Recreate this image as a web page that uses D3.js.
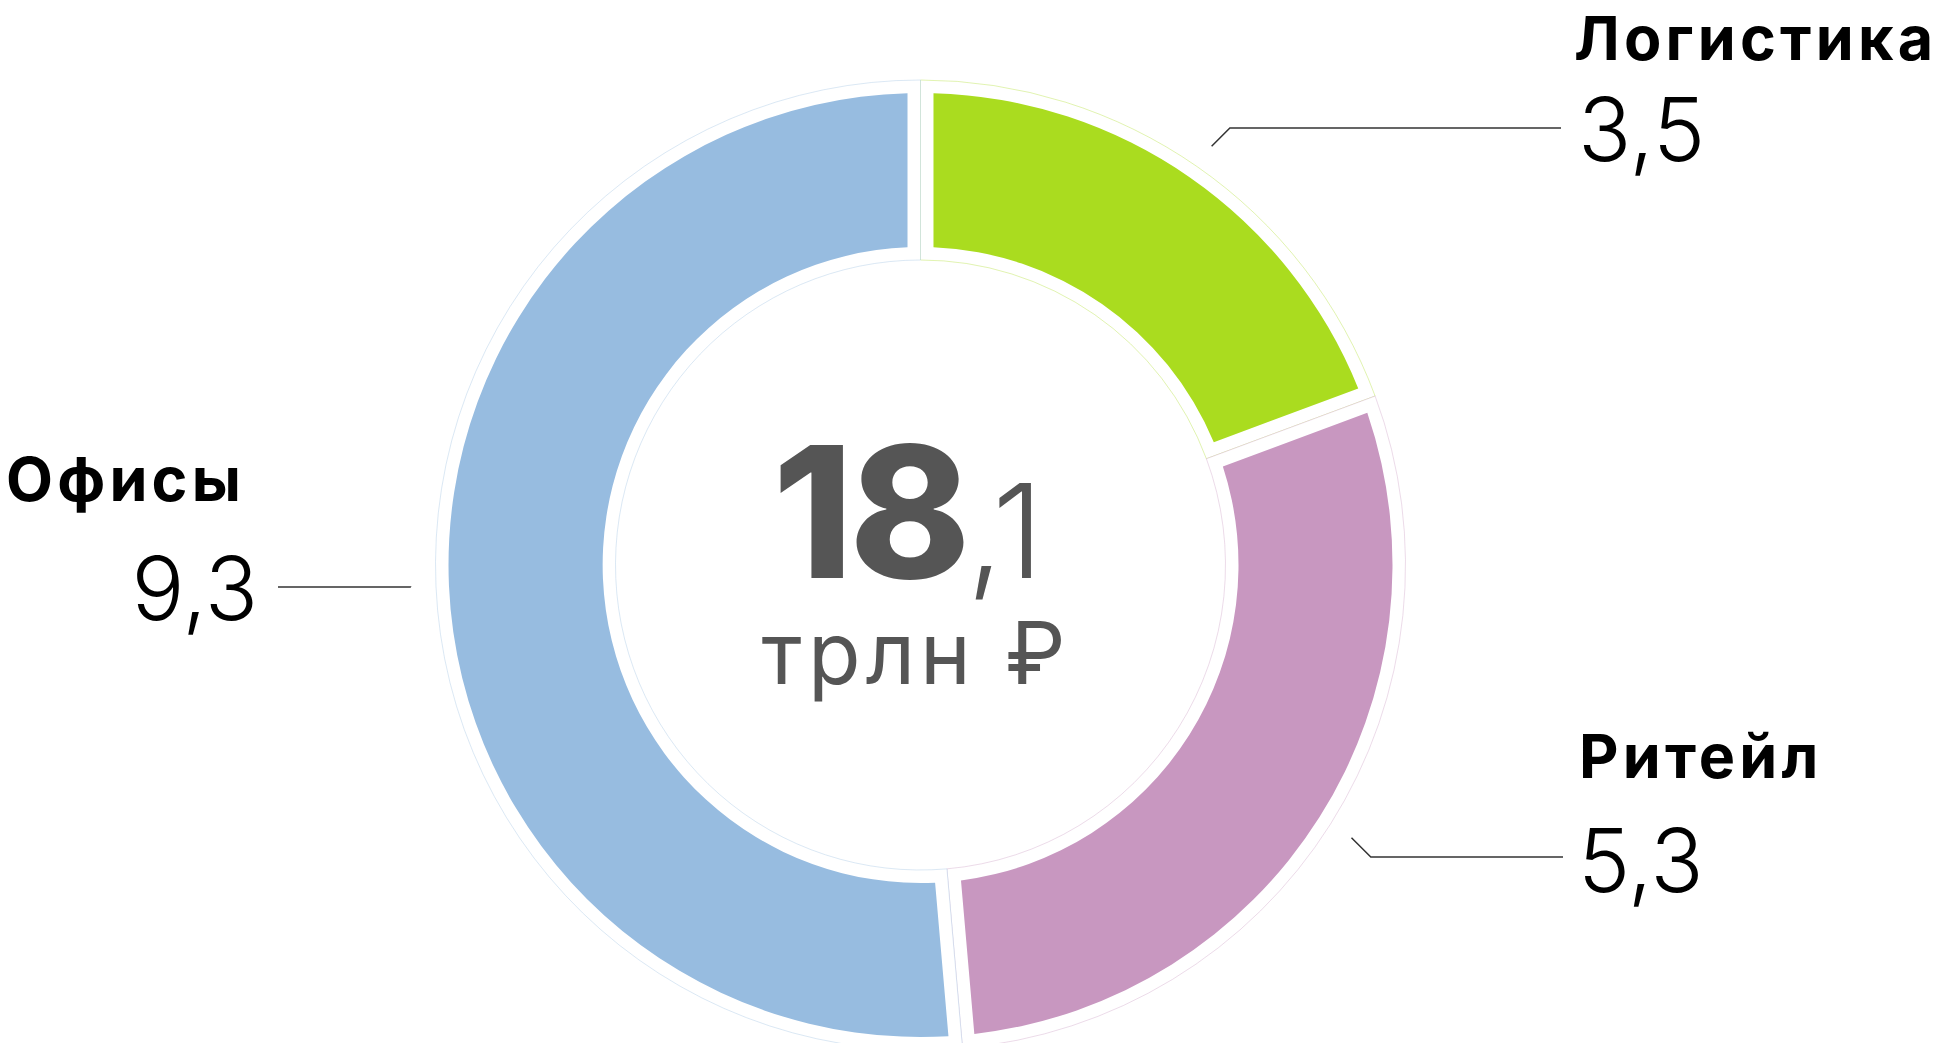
<!DOCTYPE html>
<html>
<head>
<meta charset="utf-8">
<script src="https://cdn.jsdelivr.net/npm/d3@7"></script>
<style>
  html, body { margin: 0; padding: 0; background: #fff; }
  svg { display: block; }
  text { font-family: Inter, "Noto Sans", sans-serif; }
</style>
</head>
<body>
<svg id="chart" width="1946" height="1043"></svg>
<script>
// ---- data ----
const categories = ["Логистика", "Ритейл", "Офисы"];
const values = [3.5, 5.3, 9.3];
const colors = ["#aadc1f", "#c897c0", "#97bce0"];
const totalWhole = "18";
const totalFraction = ",1";
const totalUnit = "трлн ₽";
const valueLabels = ["3,5", "5,3", "9,3"];

// ---- layout ----
const W = 1946, H = 1043;
const cx = 920.5, cy = 565;
const ringOuter = 485, ringInner = 305;   // faint outline ring
const fillOuter = 472, fillInner = 318;   // coloured ring
const gap = 13;                          // inset of coloured ring
const leaderR = 510;

// label placement per category (same order as categories)
const labelLayout = [
  { side: "right", nameX: 1574, nameY: 60,  valX: 1578, valY: 161, lineY: 128, lineEndX: 1561 },
  { side: "right", nameX: 1579, nameY: 778, valX: 1578, valY: 892, lineY: 857, lineEndX: 1563 },
  { side: "left",  nameX: 6,    nameY: 501, valX: 258,  valY: 620, lineY: 587, lineEndX: 278 }
];

const svg = d3.select("#chart");
const g = svg.append("g").attr("transform", `translate(${cx},${cy})`);

const data = categories.map((c, i) => ({ name: c, value: values[i], color: colors[i], label: valueLabels[i], i }));
const pie = d3.pie().value(d => d.value).sort(null);
const arcs = pie(data);

const outlineArc = d3.arc().innerRadius(ringInner).outerRadius(ringOuter);
const padR = 200;
const fillArc = d3.arc().innerRadius(fillInner).outerRadius(fillOuter)
  .padRadius(padR).padAngle(2 * gap / padR);

g.selectAll("path.outline").data(arcs).join("path")
  .attr("class", "outline")
  .attr("d", outlineArc)
  .attr("fill", "#fff")
  .attr("stroke", d => d.data.color)
  .attr("stroke-opacity", 0.35)
  .attr("stroke-width", 1);

g.selectAll("path.fill").data(arcs).join("path")
  .attr("class", "fill")
  .attr("d", fillArc)
  .attr("fill", d => d.data.color);

// leader lines and labels
arcs.forEach((a, k) => {
  const L = labelLayout[k];
  const mid = (a.startAngle + a.endAngle) / 2;
  const px = cx + leaderR * Math.sin(mid);
  const py = cy - leaderR * Math.cos(mid);
  const dy = L.lineY - py;
  const elbowX = L.side === "right" ? px + Math.abs(dy) : px - Math.abs(dy);
  const pts = [[px, py], [elbowX, L.lineY], [L.lineEndX, L.lineY]];
  svg.append("path")
    .attr("d", d3.line()(pts))
    .attr("fill", "none")
    .attr("stroke", "#333")
    .attr("stroke-width", 1.5);

  svg.append("text")
    .attr("x", L.nameX).attr("y", L.nameY)
    .attr("font-size", 61).attr("font-weight", 700)
    .attr("letter-spacing", 4.2)
    .attr("fill", "#000")
    .text(a.data.name);

  svg.append("text")
    .attr("x", L.valX).attr("y", L.valY)
    .attr("text-anchor", L.side === "right" ? "start" : "end")
    .attr("font-size", 88).attr("font-weight", 300)
    .attr("fill", "#000")
    .text(a.data.label);
});

// centre total
const t = svg.append("text")
  .attr("x", 908).attr("y", 578)
  .attr("text-anchor", "middle")
  .attr("fill", "#555");
t.append("tspan").attr("font-size", 183).attr("font-weight", 800).attr("letter-spacing", -4).text(totalWhole);
t.append("tspan").attr("font-size", 130).attr("font-weight", 300).text(totalFraction);

svg.append("text")
  .attr("x", 916).attr("y", 684)
  .attr("text-anchor", "middle")
  .attr("font-size", 86).attr("font-weight", 400)
  .attr("letter-spacing", 5)
  .attr("fill", "#555")
  .text(totalUnit);
</script>
</body>
</html>
